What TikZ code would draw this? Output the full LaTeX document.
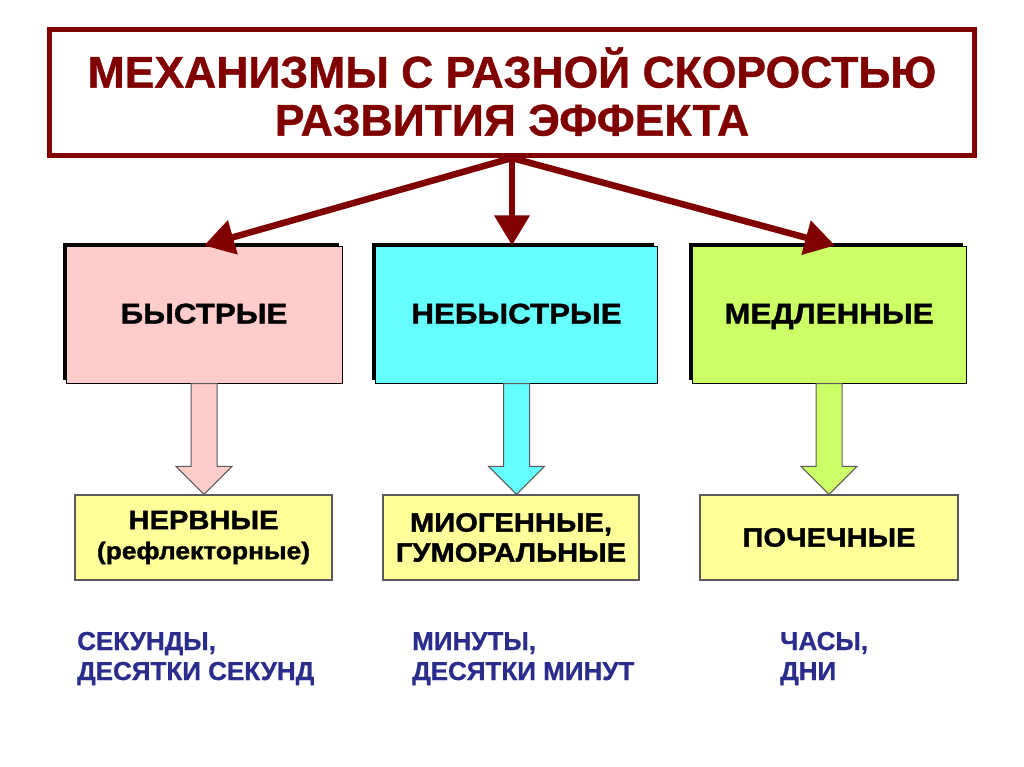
\documentclass[tikz,border=0pt]{standalone}
\usepackage{fontspec}
\setmainfont{Liberation Sans}
\newfontfamily\heavy{Liberation Sans}[FakeBold=1.3, FakeStretch=1.1]
\newfontfamily\tallfont{Liberation Sans}[FakeBold=0.8]
\usetikzlibrary{arrows.meta,calc,shadows}
\definecolor{dred}{RGB}{128,0,0}
\definecolor{pinkbox}{RGB}{255,204,204}
\definecolor{cyanbox}{RGB}{102,255,255}
\definecolor{greenbox}{RGB}{204,255,102}
\definecolor{yelbox}{RGB}{255,255,153}
\definecolor{navytext}{RGB}{43,45,140}
\definecolor{edgegray}{RGB}{90,90,90}
\tikzset{
  titlebox/.style={draw=dred, line width=5pt, fill=white, minimum width=925pt, minimum height=126pt,
    inner sep=0pt, align=center, text=dred, font=\fontsize{44.5}{48}\selectfont\tallfont\bfseries},
  kindbox/.style={draw=black, line width=1pt, minimum height=137pt, inner sep=0pt,
    text height=20pt, text depth=2pt,
    font=\fontsize{28.5}{30}\selectfont\heavy\bfseries,
    general shadow={shadow xshift=-3.5pt, shadow yshift=3.5pt, fill=black}},
  mechbox/.style={draw=edgegray, line width=1.2pt, fill=yelbox, minimum height=85pt, inner sep=0pt,
    align=center, font=\fontsize{26.5}{31}\selectfont\heavy\bfseries},
  timetext/.style={anchor=base west, inner sep=0pt, text=navytext,
    font=\fontsize{26}{30}\selectfont\tallfont\bfseries},
  toparrow/.style={draw=dred, line width=6.5pt, -{Triangle[length=30pt,width=34pt]}},
  blockarrow/.style={draw=edgegray, line width=1pt, line join=miter}
}
\newcommand{\blockarr}[3]{%
  \path[blockarrow, fill=#3] let \p1=(#1.south), \p2=(#2.north) in
    (\x1-13pt,\y1) -- (\x1+13pt,\y1) -- (\x1+13pt,\y2+28pt) -- (\x1+28pt,\y2+28pt)
    -- (\x1,\y2) -- (\x1-28pt,\y2+28pt) -- (\x1-13pt,\y2+28pt) -- cycle;}
\begin{document}
\begin{tikzpicture}[x=1pt,y=-1pt]
\useasboundingbox (0,0) rectangle (1024,767);
\fill[white] (0,0) rectangle (1024,767);

\node[titlebox] (title) at (512,92.5) {\raisebox{2pt}{МЕХАНИЗМЫ С РАЗНОЙ СКОРОСТЬЮ}\\\raisebox{2pt}{РАЗВИТИЯ ЭФФЕКТА}};

\node[kindbox, fill=pinkbox, minimum width=276pt] (fast) at (204,314.5) {БЫСТРЫЕ};
\node[kindbox, fill=cyanbox, minimum width=282pt] (mid) at (516.5,314.5) {НЕБЫСТРЫЕ};
\node[kindbox, fill=greenbox, minimum width=274pt] (slow) at (829,314.5) {МЕДЛЕННЫЕ};

\draw[toparrow] (title.south) -- (fast.north);
\draw[toparrow] (title.south) -- (title.south |- mid.north);
\draw[toparrow] (title.south) -- ([xshift=6pt]slow.north);

\node[mechbox, minimum width=257pt] (nerv) at (203.5,537.5) {\raisebox{-2pt}{НЕРВНЫЕ}\\[1pt]{\fontsize{24}{28}\selectfont (рефлекторные)}};
\node[mechbox, minimum width=256pt] (myo) at (511,537.5) {\raisebox{-1pt}{МИОГЕННЫЕ,}\\ГУМОРАЛЬНЫЕ};
\node[mechbox, minimum width=258pt] (kid) at (829,537.5) {ПОЧЕЧНЫЕ};

\blockarr{fast}{nerv}{pinkbox}
\blockarr{mid}{myo}{cyanbox}
\blockarr{slow}{kid}{greenbox}

\node[timetext] (tsec1) at (77,650) {СЕКУНДЫ,};
\node[timetext] (tsec2) at (77,680) {ДЕСЯТКИ СЕКУНД};
\node[timetext] (tmin1) at (412,650) {МИНУТЫ,};
\node[timetext] (tmin2) at (412,680) {ДЕСЯТКИ МИНУТ};
\node[timetext] (thour1) at (780,650) {ЧАСЫ,};
\node[timetext] (thour2) at (780,680) {ДНИ};
\end{tikzpicture}
\end{document}
